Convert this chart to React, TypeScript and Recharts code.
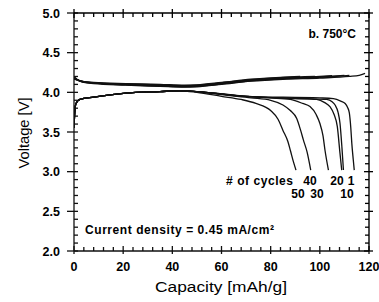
import { LineChart, Line, XAxis, YAxis, Customized } from 'recharts'

type Pt = [number, number]

// capacity [mAh/g], voltage [V]
const dischargeStart: Pt[] = [[0, 3.55], [0.3, 3.75], [0.8, 3.86], [2.4, 3.91], [8, 3.94], [21, 3.99], [35, 4.01], [43, 4.02]]

const discharge1: Pt[] = [...dischargeStart, [50, 4.01], [70, 3.95], [100, 3.93], [105.5, 3.92], [108.5, 3.89], [110.3, 3.86], [111.3, 3.81], [112, 3.74], [112.6, 3.55], [113, 3.36], [113.6, 3.15], [114, 3.02]]
const discharge10: Pt[] = [...dischargeStart, [50, 4.01], [70, 3.95], [95, 3.92], [102.8, 3.91], [105, 3.88], [106.2, 3.84], [107.4, 3.75], [108.2, 3.61], [109, 3.3], [109.6, 3.02]]
const discharge20: Pt[] = [...dischargeStart, [50, 4.01], [70, 3.95], [90, 3.92], [98.7, 3.91], [102, 3.87], [104.1, 3.82], [105.8, 3.72], [107.1, 3.57], [108.2, 3.23], [108.9, 3.02]]
const discharge30: Pt[] = [...dischargeStart, [50, 4.01], [65, 3.96], [80, 3.93], [88, 3.91], [93, 3.86], [96, 3.82], [98.5, 3.72], [100, 3.61], [101.3, 3.45], [102.1, 3.27], [103.5, 3.02]]
const discharge40: Pt[] = [...dischargeStart, [50, 4.01], [60, 3.97], [72, 3.93], [80, 3.9], [85, 3.84], [88, 3.77], [90.6, 3.67], [92.2, 3.52], [93.3, 3.4], [94.8, 3.25], [96.3, 3.02]]
const discharge50: Pt[] = [...dischargeStart, [50, 4.0], [60, 3.95], [68, 3.91], [74, 3.86], [80, 3.77], [83, 3.66], [85, 3.52], [87, 3.38], [88, 3.27], [89.3, 3.12], [90.3, 3.02]]

const charge1: Pt[] = [[0, 4.2], [1.8, 4.15], [4, 4.125], [8, 4.11], [21, 4.09], [35, 4.075], [45, 4.065], [50, 4.07], [60, 4.1], [72, 4.14], [85, 4.165], [100, 4.18], [112, 4.2], [116, 4.215], [118.4, 4.24]]
const charge10: Pt[] = [[0, 4.19], [1.8, 4.15], [4, 4.13], [8, 4.115], [21, 4.095], [35, 4.08], [45, 4.07], [50, 4.075], [60, 4.105], [72, 4.145], [85, 4.17], [100, 4.19], [112, 4.215]]
const charge20: Pt[] = [[0, 4.18], [1.8, 4.155], [4, 4.135], [8, 4.12], [21, 4.1], [35, 4.085], [45, 4.075], [50, 4.08], [60, 4.11], [72, 4.15], [85, 4.175], [100, 4.195], [110, 4.215]]
const charge30: Pt[] = [[0, 4.18], [1.8, 4.15], [4, 4.13], [8, 4.12], [21, 4.1], [35, 4.09], [45, 4.08], [50, 4.085], [60, 4.115], [72, 4.155], [85, 4.18], [100, 4.2], [105, 4.21]]
const charge40: Pt[] = [[0, 4.17], [1.8, 4.15], [4, 4.135], [8, 4.12], [21, 4.105], [35, 4.095], [45, 4.085], [50, 4.09], [60, 4.12], [72, 4.16], [85, 4.185], [98, 4.2]]
const charge50: Pt[] = [[0, 4.17], [1.8, 4.15], [4, 4.135], [8, 4.125], [21, 4.11], [35, 4.1], [45, 4.09], [50, 4.095], [60, 4.125], [72, 4.165], [85, 4.19], [92, 4.2]]

const xMajor = [0, 20, 40, 60, 80, 100, 120]
const yMajor = [2.0, 2.5, 3.0, 3.5, 4.0, 4.5, 5.0]

const xTicks = Array.from({ length: 31 }, (_, i) => i * 4)
const yTicks = Array.from({ length: 31 }, (_, i) => Math.round((2 + i * 0.1) * 10) / 10)

const toRows = (pts: Pt[]) => pts.map(([c, v]) => ({ c, v }))

const curveRows = [discharge1, discharge10, discharge20, discharge30, discharge40, discharge50, charge1, charge10, charge20, charge30, charge40, charge50].map(toRows)

const isMajorY = (v: number) => yMajor.some(m => Math.abs(m - v) < 1e-6)

const ink = '#111'
const sans = 'Liberation Sans, Arial, sans-serif'

// plot box in page pixels (margin + axis sizes below)
const box = { left: 74, right: 369, top: 13, bottom: 251 }
const px = (c: number) => box.left + (c / 120) * (box.right - box.left)
const py = (v: number) => box.bottom - ((v - 2) / 3) * (box.bottom - box.top)

function BottomTick({ x, y, payload }: any) {
  const major = xMajor.includes(payload.value)
  return (
    <g>
      <line x1={x} x2={x} y1={y - (major ? 5 : 4)} y2={y + (major ? 3 : 0)} stroke={ink} strokeWidth={1.3} />
      {major && (
        <text x={x} y={y + 20} textAnchor="middle" fontFamily={sans} fontWeight={700} fontSize={12.5} fill="#000">
          {payload.value}
        </text>
      )}
    </g>
  )
}

function LeftTick({ x, y, payload }: any) {
  const major = isMajorY(payload.value)
  return (
    <g>
      <line x1={x - (major ? 7 : 0)} x2={x + 4} y1={y} y2={y} stroke={ink} strokeWidth={1.3} />
      {major && (
        <text x={x - 14} y={y + 4.5} textAnchor="end" fontFamily={sans} fontWeight={700} fontSize={12.5} fill="#000">
          {Number(payload.value).toFixed(1)}
        </text>
      )}
    </g>
  )
}

// top and right edges of the frame with their ticks, as an overlay
function FrameOverlay() {
  return (
    <svg width={379} height={302} style={{ position: 'absolute', left: 0, top: 0, pointerEvents: 'none' }}>
      <path
        d={`M${box.left},${box.top}H${box.right}V${box.bottom}`}
        fill="none"
        stroke="#000"
        strokeWidth={1.4}
      />
      {xTicks.map(c => {
        const major = xMajor.includes(c)
        return <line key={'t' + c} x1={px(c)} x2={px(c)} y1={box.top - (major ? 4 : 0)} y2={box.top + (major ? 5 : 4)} stroke="#000" strokeWidth={1.3} />
      })}
      {yTicks.map(v => {
        const major = isMajorY(v)
        return <line key={'r' + v} x1={box.right - (major ? 5 : 4)} x2={box.right + (major ? 4 : 0)} y1={py(v)} y2={py(v)} stroke="#000" strokeWidth={1.3} />
      })}
    </svg>
  )
}

function Annotations() {
  return (
    <g fontFamily={sans} fill="#000">
      <g fontWeight={700} fontSize={12}>
        <text x={356} y={38} textAnchor="end">b. 750°C</text>
        <text x={226} y={185} textLength={67} lengthAdjust="spacing"># of cycles</text>
        <text x={310} y={185} textAnchor="middle">40</text>
        <text x={337} y={185} textAnchor="middle">20</text>
        <text x={351} y={185} textAnchor="middle">1</text>
        <text x={298} y={198} textAnchor="middle">50</text>
        <text x={317} y={198} textAnchor="middle">30</text>
        <text x={347} y={198} textAnchor="middle">10</text>
        <text x={85} y={234} textLength={189} lengthAdjust="spacing">Current density = 0.45 mA/cm²</text>
      </g>
      <text x={221} y={292} textAnchor="middle" fontSize={15.5} textLength={132} lengthAdjust="spacingAndGlyphs">Capacity [mAh/g]</text>
      <text x={0} y={0} transform="translate(29 133) rotate(-90)" textAnchor="middle" fontSize={14} textLength={71} lengthAdjust="spacingAndGlyphs">Voltage [V]</text>
    </g>
  )
}

export default function App() {
  return (
    <div style={{ position: 'absolute', left: 0, top: 0, width: 379, height: 302, background: '#fff' }}>
      <LineChart width={379} height={302} margin={{ top: 13, right: 10, bottom: 0, left: 0 }}>
        <XAxis dataKey="c" type="number" domain={[0, 120]} ticks={xTicks} interval={0} allowDataOverflow height={51} tickSize={0} tickMargin={0} tickLine={false} axisLine={{ stroke: ink, strokeWidth: 1.3 }} tick={BottomTick} />
        <YAxis type="number" domain={[2, 5]} ticks={yTicks} interval={0} allowDataOverflow width={74} tickSize={0} tickMargin={0} tickLine={false} axisLine={{ stroke: ink, strokeWidth: 1.3 }} tick={LeftTick} />
        {curveRows.map((rows, i) => (
          <Line key={i} data={rows} dataKey="v" type="monotone" stroke={ink} strokeWidth={1.3} dot={false} activeDot={false} isAnimationActive={false} />
        ))}
        <Customized component={Annotations} />
      </LineChart>
      <FrameOverlay />
    </div>
  )
}
